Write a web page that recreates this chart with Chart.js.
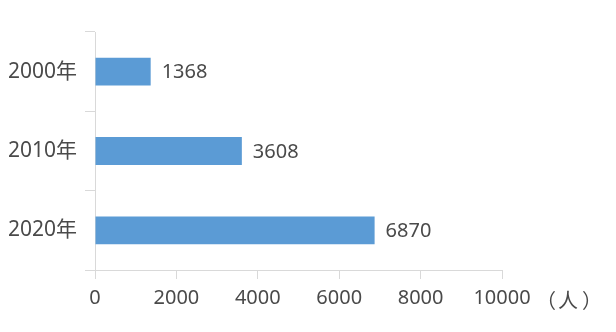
<!DOCTYPE html>
<html>
<head>
<meta charset="utf-8">
<script src="https://cdn.jsdelivr.net/npm/chart.js@4"></script>
<style>
  html, body { margin: 0; padding: 0; background: #ffffff; }
  #wrap { width: 616px; height: 332px; }
</style>
</head>
<body>
<div id="wrap"><canvas id="chart"></canvas></div>
<script>
YEARS = ["2000年", "2010年", "2020年"]
PEOPLE = [1368, 3608, 6870]
X_TICKS = [0, 2000, 4000, 6000, 8000, 10000]
UNIT = "（人）"

FONT = "'Noto Sans', 'Noto Sans CJK SC', sans-serif"
TEXT = "#4a4a4a"
AXIS = "#d9d9d9"

// value next to each bar end
var valueLabels = {
    id: "valueLabels",
    afterDatasetsDraw(chart) {
        var ctx = chart.ctx
        var meta = chart.getDatasetMeta(0)
        ctx.save()
        ctx.font = "20px " + FONT
        ctx.fillStyle = TEXT
        ctx.textAlign = "left"
        ctx.textBaseline = "middle"
        meta.data.forEach(function (bar, i) {
            ctx.fillText(String(PEOPLE[i]), bar.x + 11, bar.y + 1)
        })
        ctx.restore()
    }
}

// unit after the last x tick, full-width spacing
var unitLabel = {
    id: "unitLabel",
    afterDraw(chart) {
        var ctx = chart.ctx
        var xs = chart.scales.x
        var offs = [44, 66, 90]
        ctx.save()
        ctx.font = "20px 'Noto Sans CJK SC', sans-serif"
        ctx.fillStyle = TEXT
        ctx.textAlign = "center"
        ctx.textBaseline = "middle"
        Array.from(UNIT).forEach(function (ch, i) {
            ctx.fillText(ch, xs.right + offs[i], 300)
        })
        ctx.restore()
    }
}

new Chart("chart", {
    type: "bar",
    data: {
        labels: YEARS,
        datasets: [{
            data: PEOPLE,
            backgroundColor: "#5b9bd5",
            borderWidth: 0,
            barPercentage: 0.35,
            categoryPercentage: 1
        }]
    },
    options: {
        indexAxis: "y",
        responsive: true,
        maintainAspectRatio: false,
        animation: false,
        layout: { padding: { top: 32, right: 114, bottom: 0, left: 0 } },
        plugins: { legend: { display: false }, tooltip: { enabled: false } },
        scales: {
            x: {
                min: 0,
                max: 10000,
                afterBuildTicks(scale) { scale.ticks = X_TICKS.map(function (v) { return { value: v } }) },
                afterFit(scale) { scale.height = 62 },
                grid: { drawOnChartArea: false, drawTicks: true, tickLength: 9, color: AXIS },
                border: { color: AXIS, width: 1 },
                ticks: {
                    color: TEXT, font: { family: FONT, size: 20 }, padding: 7, maxRotation: 0,
                    callback: function (v) { return String(v) }
                }
            },
            y: {
                afterFit(scale) { scale.width = 95 },
                grid: { drawOnChartArea: false, drawTicks: true, tickLength: 10, color: AXIS, offset: true },
                border: { color: AXIS, width: 1 },
                ticks: { color: TEXT, font: { family: FONT, size: 21 }, padding: 8 }
            }
        }
    },
    plugins: [valueLabels, unitLabel]
})
</script>
</body>
</html>
